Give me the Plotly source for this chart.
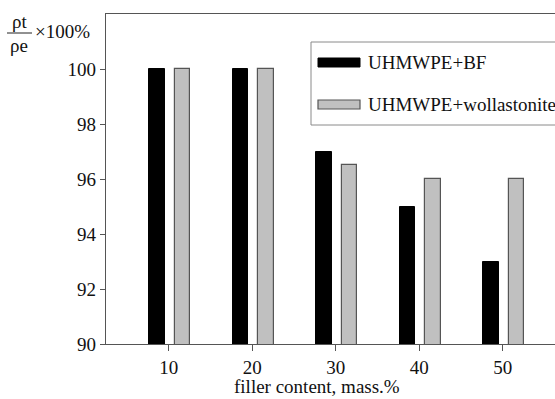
import plotly.graph_objects as go

filler = [10, 20, 30, 40, 50]
bf_values = [100, 100, 97, 95, 93]
woll_values = [100, 100, 96.5, 96, 96]
y_ticks = [90, 92, 94, 96, 98, 100]
series_names = ["UHMWPE+BF", "UHMWPE+wollastonite"]

FONT = "Liberation Serif, Times New Roman, serif"
FS = 19
W, H = 555, 399
L, T, Bot = 106, 14, 344
B = H - Bot
R = 0
pw = W - L - R
ph = H - T - B

def px(xp):
    return (xp - L) / pw

def py(yp):
    return 1 - (yp - T) / ph

fig = go.Figure()
fig.add_trace(go.Bar(x=filler, y=bf_values, name=series_names[0],
                     width=1.9, offset=-2.35,
                     marker=dict(color="#000000", line=dict(color="#000000", width=1)),
                     showlegend=False))
fig.add_trace(go.Bar(x=filler, y=woll_values, name=series_names[1],
                     width=1.8, offset=0.76,
                     marker=dict(color="#c0c0c0", line=dict(color="#555555", width=1.2)),
                     showlegend=False))

shapes = []
# legend box
shapes.append(dict(type="rect", xref="paper", yref="paper",
                   x0=px(311), x1=px(700), y0=py(125), y1=py(42),
                   line=dict(color="#8a8a8a", width=1), fillcolor="white", layer="above"))
shapes.append(dict(type="rect", xref="paper", yref="paper",
                   x0=px(318), x1=px(360), y0=py(67), y1=py(58),
                   line=dict(color="#000000", width=1), fillcolor="#000000", layer="above"))
shapes.append(dict(type="rect", xref="paper", yref="paper",
                   x0=px(318), x1=px(360), y0=py(109), y1=py(100),
                   line=dict(color="#555555", width=1.2), fillcolor="#c0c0c0", layer="above"))
# fraction line of y label
shapes.append(dict(type="line", xref="paper", yref="paper",
                   x0=px(7), x1=px(32), y0=py(33), y1=py(33),
                   line=dict(color="#222222", width=1)))

ann = []
ann.append(dict(text=series_names[0], xref="paper", yref="paper", x=px(366), y=py(62),
                xanchor="left", yanchor="middle", showarrow=False,
                font=dict(family=FONT, size=FS, color="#111")))
ann.append(dict(text=series_names[1], xref="paper", yref="paper", x=px(366), y=py(104),
                xanchor="left", yanchor="middle", showarrow=False,
                font=dict(family=FONT, size=FS, color="#111")))
ann.append(dict(text="filler content, mass.%", xref="paper", yref="paper", x=px(317), y=py(386),
                xanchor="center", yanchor="middle", showarrow=False,
                font=dict(family=FONT, size=FS, color="#111")))
ann.append(dict(text="ρt", xref="paper", yref="paper", x=px(19), y=py(33),
                xanchor="center", yanchor="bottom", showarrow=False,
                font=dict(family=FONT, size=19, color="#111"), borderpad=0))
ann.append(dict(text="ρe", xref="paper", yref="paper", x=px(19), y=py(34),
                xanchor="center", yanchor="top", showarrow=False,
                font=dict(family=FONT, size=19, color="#111"), borderpad=0))
ann.append(dict(text="×100%", xref="paper", yref="paper", x=px(33), y=py(31),
                xanchor="left", yanchor="middle", showarrow=False,
                font=dict(family=FONT, size=FS, color="#111")))

fig.update_layout(
    width=W, height=H,
    margin=dict(l=L, r=R, t=T, b=B, autoexpand=False),
    paper_bgcolor="white", plot_bgcolor="white",
    font=dict(family=FONT, size=FS, color="#111"),
    showlegend=False,
    shapes=shapes, annotations=ann,
    bargap=0,
)
fig.update_xaxes(range=[2.5, 2.5 + pw / 8.35], tickvals=filler, ticktext=[str(v) for v in filler],
                 showgrid=False, zeroline=False, showline=True, linecolor="#555555", linewidth=1.2,
                 mirror=True, ticks="outside", ticklen=6, tickcolor="#555555",
                 tickfont=dict(family=FONT, size=FS, color="#111"))
fig.update_yaxes(range=[90, 102], tickvals=y_ticks, ticktext=[str(v) for v in y_ticks],
                 showgrid=False, zeroline=False, showline=True, linecolor="#555555", linewidth=1.2,
                 ticks="outside", ticklen=5, tickcolor="#555555",
                 tickfont=dict(family=FONT, size=FS, color="#111"))

fig.write_html("out.html",
               config={"displayModeBar": False},
               post_script="document.body.style.margin='0';"
                           "document.documentElement.style.overflow='hidden';"
                           "document.body.style.overflow='hidden';")
